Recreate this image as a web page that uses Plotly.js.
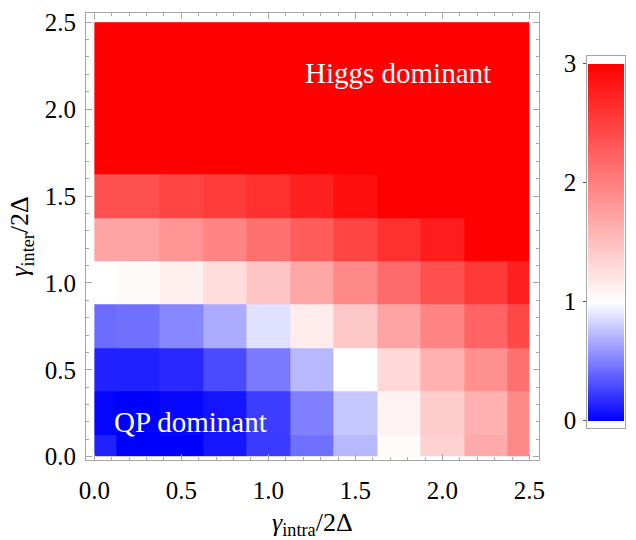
<!DOCTYPE html>
<html>
<head>
<meta charset="utf-8">
<script src="https://cdn.plot.ly/plotly-3.0.1.min.js"></script>
<style>html,body{margin:0;padding:0;background:#fff;}#chart{width:636px;height:540px;}</style>
</head>
<body>
<div id="chart"></div>
<script>
// grid points (cell centres)
const gammaIntra = [0, 0.25, 0.5, 0.75, 1.0, 1.25, 1.5, 1.75, 2.0, 2.25, 2.5];
const gammaInter = [0, 0.25, 0.5, 0.75, 1.0, 1.25, 1.5, 1.75, 2.0, 2.25, 2.5];

// ratio values, one row per gamma_inter (bottom to top)
const row000 = [0.13, 0.00, 0.00, 0.09, 0.23, 0.44, 0.72, 1.03, 1.35, 1.67, 1.93];
const row025 = [0.02, 0.00, 0.03, 0.08, 0.24, 0.50, 0.78, 1.10, 1.40, 1.62, 1.93];
const row050 = [0.13, 0.13, 0.16, 0.29, 0.48, 0.72, 1.00, 1.30, 1.62, 1.87, 2.12];
const row075 = [0.42, 0.44, 0.53, 0.67, 0.88, 1.15, 1.43, 1.71, 1.96, 2.22, 2.43];
const row100 = [1.00, 1.04, 1.12, 1.27, 1.46, 1.70, 1.93, 2.17, 2.38, 2.56, 2.75];
const row125 = [1.71, 1.71, 1.84, 1.96, 2.12, 2.28, 2.47, 2.62, 2.78, 3.00, 3.00];
const row150 = [2.37, 2.37, 2.47, 2.53, 2.62, 2.75, 2.89, 3.00, 3.00, 3.00, 3.00];
const row175 = [3.00, 3.00, 3.00, 3.00, 3.00, 3.00, 3.00, 3.00, 3.00, 3.00, 3.00];
const row200 = [3.00, 3.00, 3.00, 3.00, 3.00, 3.00, 3.00, 3.00, 3.00, 3.00, 3.00];
const row225 = [3.00, 3.00, 3.00, 3.00, 3.00, 3.00, 3.00, 3.00, 3.00, 3.00, 3.00];
const row250 = [3.00, 3.00, 3.00, 3.00, 3.00, 3.00, 3.00, 3.00, 3.00, 3.00, 3.00];

const colorbarTicks = [0, 1, 2, 3];

const zMatrix = [row000, row025, row050, row075, row100, row125, row150, row175, row200, row225, row250];

// cell edges: clipped to the data range like the original
function edges(c) {
  const e = [c[0]];
  for (let i = 0; i < c.length - 1; i++) e.push((c[i] + c[i + 1]) / 2);
  e.push(c[c.length - 1]);
  return e;
}

const serif = 'Liberation Serif, Times New Roman, serif';
const frameCol = '#a6a6a6';

const trace = {
  type: 'heatmap',
  x: edges(gammaIntra),
  y: edges(gammaInter),
  z: zMatrix,
  zmin: 0, zmax: 3,
  colorscale: [[0, 'rgb(0,0,255)'], [1/3, 'rgb(255,255,255)'], [1, 'rgb(255,0,0)']],
  zsmooth: false,
  hoverinfo: 'skip',
  colorbar: {
    x: 0.9296, xanchor: 'left', xpad: 0,
    y: 0.8869, yanchor: 'top', ypad: 0,
    len: 357, lenmode: 'pixels',
    thickness: 36, thicknessmode: 'pixels',
    outlinewidth: 0,
    ticks: '', showticklabels: false
  }
};

// invisible helper trace so the colour-bar frame/tick axis gets drawn
const frameTrace = {
  type: 'scatter', mode: 'markers',
  x: [0.5], y: [colorbarTicks[0]],
  xaxis: 'x2', yaxis: 'y2',
  marker: {opacity: 0, size: 1},
  hoverinfo: 'skip', showlegend: false
};

const axFont = {family: serif, size: 25, color: '#000'};

const layout = {
  width: 636, height: 540,
  margin: {l: 86, r: 10, t: 12.7, b: 80},
  paper_bgcolor: '#fff', plot_bgcolor: 'rgba(0,0,0,0)',
  showlegend: false,
  xaxis: {
    domain: [0, 0.8383],
    range: [-0.048, 2.553],
    tick0: 0, dtick: 0.5, tickformat: '.1f',
    ticks: 'inside', ticklen: 6, tickwidth: 1, tickcolor: frameCol,
    minor: {dtick: 0.1, tick0: 0, ticks: 'inside', ticklen: 3, tickcolor: frameCol, showgrid: false},
    showline: true, linecolor: frameCol, linewidth: 1, mirror: 'allticks',
    showgrid: false, zeroline: false,
    tickfont: axFont,
    ticklabelstandoff: 8,
    title: {text: '<i>γ</i><sub>intra</sub>/2Δ', font: {family: serif, size: 26, color: '#000'}, standoff: 18}
  },
  yaxis: {
    domain: [0, 1],
    range: [-0.019, 2.553],
    tick0: 0, dtick: 0.5, tickformat: '.1f',
    ticks: 'inside', ticklen: 6, tickwidth: 1, tickcolor: frameCol,
    minor: {dtick: 0.1, tick0: 0, ticks: 'inside', ticklen: 3, tickcolor: frameCol, showgrid: false},
    showline: true, linecolor: frameCol, linewidth: 1, mirror: 'allticks',
    showgrid: false, zeroline: false,
    tickfont: axFont,
    ticklabelstandoff: 4,
    title: {text: '<i>γ</i><sub>inter</sub>/2Δ', font: {family: serif, size: 26, color: '#000'}, standoff: 8}
  },
  xaxis2: {
    domain: [0.9283, 0.9981], anchor: 'y2', range: [0, 1],
    showline: true, mirror: true, linecolor: frameCol, linewidth: 1,
    showticklabels: false, ticks: '', showgrid: false, zeroline: false, fixedrange: true
  },
  yaxis2: {
    domain: [0.0715, 0.9032], anchor: 'x2', range: [-0.067, 3.061],
    tickvals: colorbarTicks, ticktext: colorbarTicks.map(String),
    ticks: 'outside', ticklen: 3, tickcolor: '#555',
    showline: true, mirror: true, linecolor: frameCol, linewidth: 1,
    showgrid: false, zeroline: false, fixedrange: true,
    tickfont: {family: serif, size: 25, color: '#000'},
    ticklabelstandoff: 2
  },
  annotations: [
    {x: 1.746, y: 2.205, xref: 'x', yref: 'y', text: 'Higgs dominant', showarrow: false,
     font: {family: serif, size: 29, color: '#fff'}},
    {x: 0.55, y: 0.20, xref: 'x', yref: 'y', text: 'QP dominant', showarrow: false,
     font: {family: serif, size: 29, color: '#fff'}}
  ]
};

Plotly.newPlot('chart', [trace, frameTrace], layout, {displayModeBar: false, staticPlot: true});
</script>
</body>
</html>
